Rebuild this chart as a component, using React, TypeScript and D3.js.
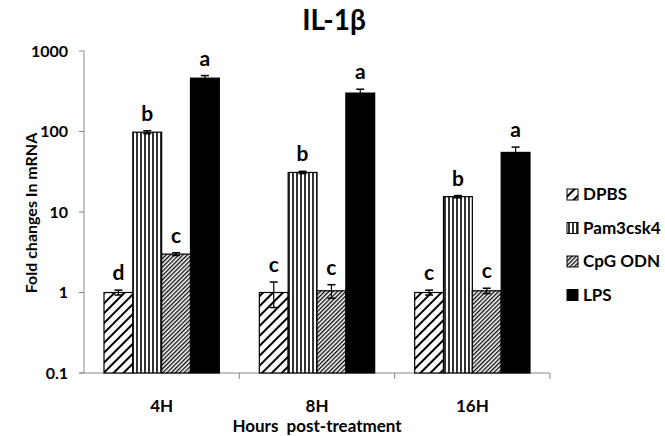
import React from 'react';
import * as d3 from 'd3';

const categories = ['4H', '8H', '16H'];
const series = ['DPBS', 'Pam3csk4', 'CpG ODN', 'LPS'];
const values = [
  [1, 1, 1],
  [98, 31, 15.5],
  [3.0, 1.05, 1.05],
  [460, 300, 55],
];
const errors = [
  [0.07, 0.35, 0.07],
  [4, 1, 0.5],
  [0.12, 0.2, 0.08],
  [35, 35, 9],
];
const letters = [
  ['d', 'c', 'c'],
  ['b', 'b', 'b'],
  ['c', 'c', 'c'],
  ['a', 'a', 'a'],
];
const yTicks = [0.1, 1, 10, 100, 1000];

const W = 665, H = 436;
const fills = ['url(#pDPBS)', 'url(#pPam)', 'url(#pCpG)', '#000'];
const font = 'Lato, "Open Sans", sans-serif';

export default function App() {
  const x = d3.scaleBand().domain(categories).range([84, 550]);
  const y = d3.scaleLog().domain([0.1, 1000]).range([373, 51]);
  const bw = x.bandwidth();
  const inner = d3.scaleBand().domain(series).range([20, bw - 20]);
  const barW = inner.bandwidth();

  return (
    <div style={{position: 'absolute', left: 0, top: 0}}>
      <svg width={W} height={H} style={{display: 'block', background: '#fff'}} fontFamily={font}>
        <defs>
          <pattern id="pDPBS" width="7" height="7" patternUnits="userSpaceOnUse" patternTransform="rotate(45)">
            <rect width="7" height="7" fill="#fff" />
            <line x1="1" y1="0" x2="1" y2="7" stroke="#000" strokeWidth="2" />
          </pattern>
          <pattern id="pPam" width="4" height="4" patternUnits="userSpaceOnUse">
            <rect width="4" height="4" fill="#fff" />
            <line x1="1" y1="0" x2="1" y2="4" stroke="#000" strokeWidth="1.6" />
          </pattern>
          <pattern id="pCpG" width="3" height="3" patternUnits="userSpaceOnUse" patternTransform="rotate(45)">
            <rect width="3" height="3" fill="#fff" />
            <line x1="0.7" y1="0" x2="0.7" y2="3" stroke="#000" strokeWidth="1.3" />
          </pattern>
        </defs>

        {/* title */}
        <text x={334} y={30} textAnchor="middle" fontSize={28} fontWeight="bold">IL-1β</text>

        {/* y axis */}
        <line x1={84} x2={84} y1={y(1000)} y2={y(0.1)} stroke="#888" />
        {yTicks.map(t => (
          <g key={t}>
            <line x1={79} x2={84} y1={y(t)} y2={y(t)} stroke="#888" />
            <text x={68} y={y(t)} dy="0.35em" textAnchor="end" fontSize={16} fontWeight="bold">{t}</text>
          </g>
        ))}
        <text transform={`translate(37,${213}) rotate(-90)`} textAnchor="middle" fontSize={16} fontWeight="bold">
          Fold changes In mRNA
        </text>

        {/* x axis */}
        <line x1={79} x2={550} y1={373} y2={373} stroke="#888" />
        {categories.map(c => (
          <g key={c}>
            <line x1={x(c)! + bw} x2={x(c)! + bw} y1={373} y2={379} stroke="#888" />
            <text x={x(c)! + bw / 2} y={406} dy="0.35em" textAnchor="middle" fontSize={17} fontWeight="bold">{c}</text>
          </g>
        ))}
        <text x={317} y={426} dy="0.35em" textAnchor="middle" fontSize={17} fontWeight="bold" style={{whiteSpace: 'pre'}}>
          Hours  post-treatment
        </text>

        {/* bars */}
        {series.map((s, si) => (
          <g key={s}>
            {categories.map((c, ci) => {
              const v = values[si][ci];
              const e = errors[si][ci];
              const bx = x(c)! + inner(s)!;
              const cx = bx + barW / 2;
              const top = y(v);
              const eTop = y(v + e);
              const eBot = y(Math.max(v - e, 0.1));
              return (
                <g key={c}>
                  <rect x={bx} y={top} width={barW} height={373 - top} fill={fills[si]} stroke="#000" strokeWidth={1.2} />
                  <line x1={cx} x2={cx} y1={eTop} y2={eBot} stroke="#000" strokeWidth={1.2} />
                  <line x1={cx - 4} x2={cx + 4} y1={eTop} y2={eTop} stroke="#000" strokeWidth={1.5} />
                  <line x1={cx - 4} x2={cx + 4} y1={eBot} y2={eBot} stroke="#000" strokeWidth={1.5} />
                  <text x={cx} y={eTop - 10} textAnchor="middle" fontSize={21} fontWeight="bold">{letters[si][ci]}</text>
                </g>
              );
            })}
          </g>
        ))}

        {/* legend */}
        {series.map((s, si) => {
          const ly = 194.5 + si * 33.5;
          return (
            <g key={s}>
              <rect x={567} y={ly - 5.5} width={11} height={11} fill={fills[si]} stroke="#000" strokeWidth={1} />
              <text x={583} y={ly} dy="0.35em" fontSize={17} fontWeight="bold">{s}</text>
            </g>
          );
        })}
      </svg>
    </div>
  );
}
